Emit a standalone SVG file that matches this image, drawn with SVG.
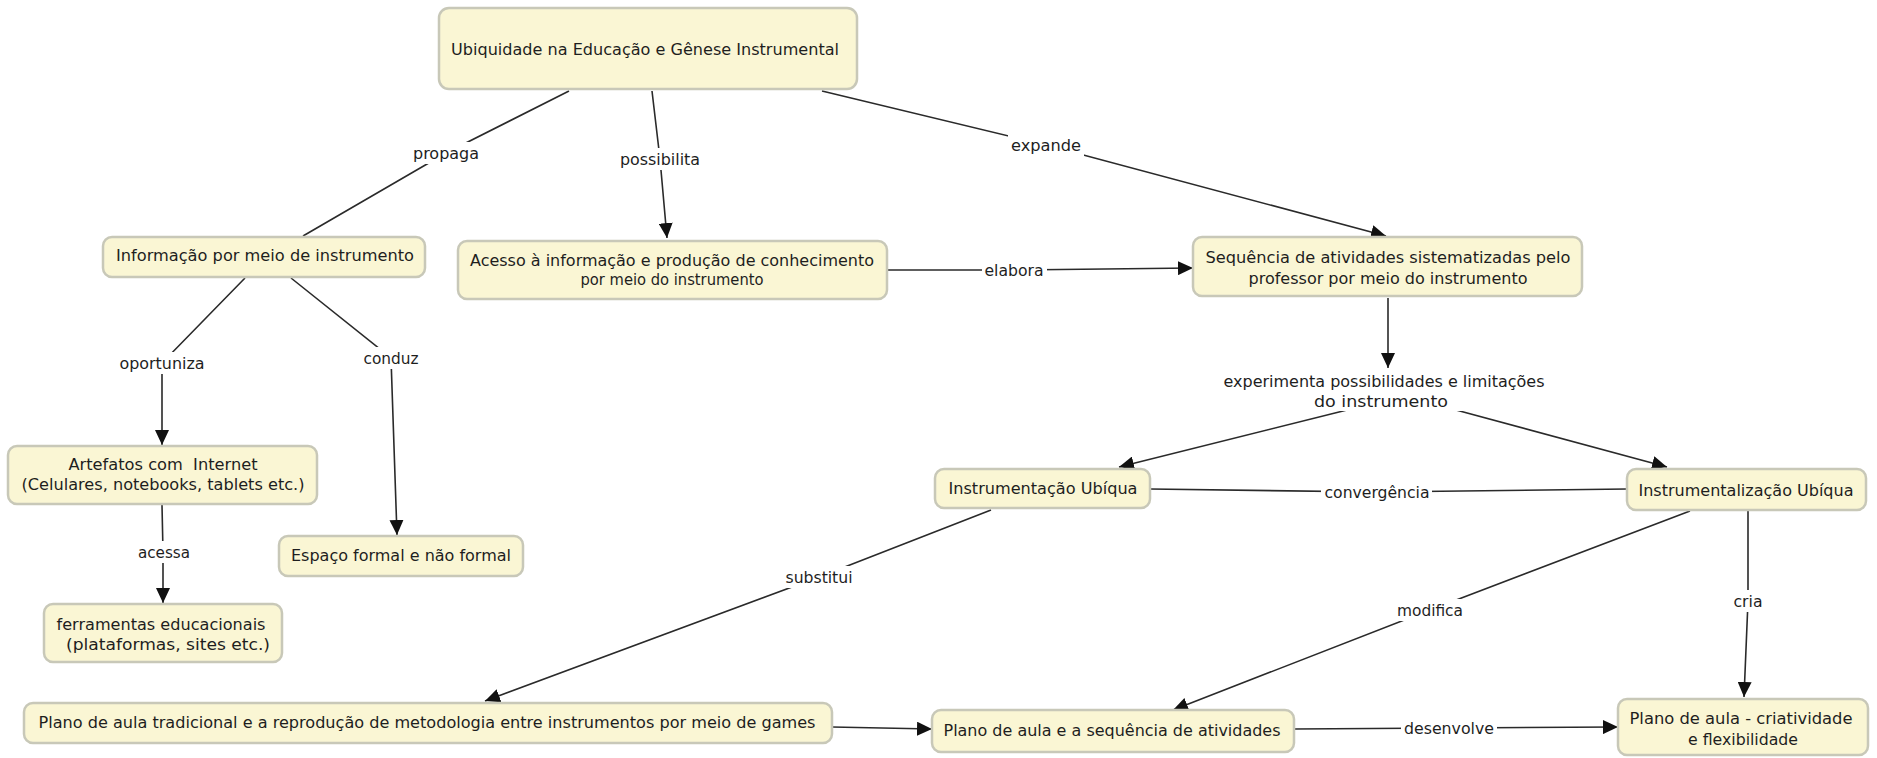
<svg xmlns="http://www.w3.org/2000/svg" width="1877" height="758" viewBox="0 0 1877 758">
  <defs>
    <marker id="arrow" markerUnits="userSpaceOnUse" markerWidth="16" markerHeight="14" refX="15" refY="7" orient="auto">
      <path d="M0,0 L15,7 L0,14 Z" fill="#111"/>
    </marker>
    <style>
      .box { fill: #FAF6D4; stroke: #C8C8B8; stroke-width: 2.5; }
      .txt { font-family: "DejaVu Sans", Verdana, sans-serif; font-size: 16px; fill: #1e1e1e; text-anchor: middle; }
      .lbl { font-family: "DejaVu Sans", Verdana, sans-serif; font-size: 16px; fill: #1e1e1e; text-anchor: middle; }
      .lblbg { fill: #ffffff; }
      .edge { fill: none; stroke: #2a2a2a; stroke-width: 1.6; }
      .arr { marker-end: url(#arrow); }
    </style>
  </defs>

  <rect x="0" y="0" width="1877" height="758" fill="#ffffff"/>

  <!-- connectors: each path runs source -> label -> target -->
  <g id="connectors">
    <path class="edge" d="M569,91 L446,153 L303,236"/>
    <path class="edge arr" d="M652,91 L660,159 L667,238"/>
    <path class="edge arr" d="M822,91 L1046,145 L1386,236"/>
    <path class="edge arr" d="M887,270 L1014,270 L1193,268"/>
    <path class="edge arr" d="M245,278 L162,363 L162,445"/>
    <path class="edge arr" d="M291,278 L391,358 L397,535"/>
    <path class="edge arr" d="M162,505 L163,552 L163,603"/>
    <path class="edge arr" d="M1388,298 L1388,368"/>
    <path class="edge arr" d="M1347,410 L1119,467"/>
    <path class="edge arr" d="M1456,410 L1667,467"/>
    <path class="edge" d="M1150,489 L1377,492 L1627,489"/>
    <path class="edge arr" d="M991,510 L819,577 L485,701"/>
    <path class="edge arr" d="M1690,511 L1430,610 L1173,710"/>
    <path class="edge arr" d="M1748,511 L1748,601 L1744,697"/>
    <path class="edge arr" d="M832,727 L932,729"/>
    <path class="edge arr" d="M1294,729 L1449,728 L1618,727"/>

    <!-- link labels -->
    <g id="labels">
      <rect class="lblbg" x="410" y="142" width="72" height="22"/>
      <text class="lbl" x="446" y="159" textLength="66" lengthAdjust="spacingAndGlyphs">propaga</text>
      <rect class="lblbg" x="617" y="148" width="86" height="22"/>
      <text class="lbl" x="660" y="165" textLength="80" lengthAdjust="spacingAndGlyphs">possibilita</text>
      <rect class="lblbg" x="1008" y="134" width="76" height="22"/>
      <text class="lbl" x="1046" y="151" textLength="70" lengthAdjust="spacingAndGlyphs">expande</text>
      <rect class="lblbg" x="982" y="259" width="65" height="22"/>
      <text class="lbl" x="1014" y="276" textLength="59" lengthAdjust="spacingAndGlyphs">elabora</text>
      <rect class="lblbg" x="117" y="352" width="91" height="22"/>
      <text class="lbl" x="162" y="369" textLength="85" lengthAdjust="spacingAndGlyphs">oportuniza</text>
      <rect class="lblbg" x="361" y="347" width="61" height="22"/>
      <text class="lbl" x="391" y="364" textLength="55" lengthAdjust="spacingAndGlyphs">conduz</text>
      <rect class="lblbg" x="135" y="541" width="58" height="22"/>
      <text class="lbl" x="164" y="558" textLength="52" lengthAdjust="spacingAndGlyphs">acessa</text>
      <rect class="lblbg" x="1220" y="369" width="327" height="42"/>
      <text class="lbl" x="1384" y="387" textLength="321" lengthAdjust="spacingAndGlyphs">experimenta possibilidades e limitações</text>
      <text class="lbl" x="1381" y="407" textLength="134" lengthAdjust="spacingAndGlyphs">do instrumento</text>
      <rect class="lblbg" x="1321" y="481" width="111" height="22"/>
      <text class="lbl" x="1377" y="498" textLength="105" lengthAdjust="spacingAndGlyphs">convergência</text>
      <rect class="lblbg" x="782" y="566" width="73" height="22"/>
      <text class="lbl" x="819" y="583" textLength="67" lengthAdjust="spacingAndGlyphs">substitui</text>
      <rect class="lblbg" x="1394" y="599" width="72" height="22"/>
      <text class="lbl" x="1430" y="616" textLength="66" lengthAdjust="spacingAndGlyphs">modifica</text>
      <rect class="lblbg" x="1730" y="590" width="35" height="22"/>
      <text class="lbl" x="1748" y="607" textLength="29" lengthAdjust="spacingAndGlyphs">cria</text>
      <rect class="lblbg" x="1401" y="717" width="96" height="22"/>
      <text class="lbl" x="1449" y="734" textLength="90" lengthAdjust="spacingAndGlyphs">desenvolve</text>
    </g>
  </g>

  <!-- concept nodes -->
  <g id="node-ubiquidade">
    <rect class="box" x="439" y="8" width="418" height="81" rx="10"/>
    <text class="txt" x="645" y="55" textLength="388" lengthAdjust="spacingAndGlyphs">Ubiquidade na Educação e Gênese Instrumental</text>
  </g>
  <g id="node-informacao">
    <rect class="box" x="103" y="237" width="322" height="40" rx="9"/>
    <text class="txt" x="265" y="261" textLength="298" lengthAdjust="spacingAndGlyphs">Informação por meio de instrumento</text>
  </g>
  <g id="node-acesso">
    <rect class="box" x="458" y="241" width="429" height="58" rx="9"/>
    <text class="txt" x="672" y="266" textLength="404" lengthAdjust="spacingAndGlyphs">Acesso à informação e produção de conhecimento</text>
    <text class="txt" x="672" y="285" textLength="183" lengthAdjust="spacingAndGlyphs">por meio do instrumento</text>
  </g>
  <g id="node-sequencia">
    <rect class="box" x="1193" y="237" width="389" height="59" rx="9"/>
    <text class="txt" x="1388" y="263" textLength="365" lengthAdjust="spacingAndGlyphs">Sequência de atividades sistematizadas pelo</text>
    <text class="txt" x="1388" y="284" textLength="279" lengthAdjust="spacingAndGlyphs">professor por meio do instrumento</text>
  </g>
  <g id="node-artefatos">
    <rect class="box" x="8" y="446" width="309" height="58" rx="9"/>
    <text class="txt" x="163" y="470" textLength="189" lengthAdjust="spacingAndGlyphs" xml:space="preserve">Artefatos com  Internet</text>
    <text class="txt" x="163" y="490" textLength="283" lengthAdjust="spacingAndGlyphs">(Celulares, notebooks, tablets etc.)</text>
  </g>
  <g id="node-espaco">
    <rect class="box" x="279" y="536" width="244" height="40" rx="9"/>
    <text class="txt" x="401" y="561" textLength="220" lengthAdjust="spacingAndGlyphs">Espaço formal e não formal</text>
  </g>
  <g id="node-ferramentas">
    <rect class="box" x="44" y="604" width="238" height="58" rx="9"/>
    <text class="txt" x="161" y="630" textLength="209" lengthAdjust="spacingAndGlyphs">ferramentas educacionais</text>
    <text class="txt" x="168" y="650" textLength="204" lengthAdjust="spacingAndGlyphs">(plataformas, sites etc.)</text>
  </g>
  <g id="node-instrumentacao">
    <rect class="box" x="935" y="469" width="215" height="39" rx="9"/>
    <text class="txt" x="1043" y="494" textLength="189" lengthAdjust="spacingAndGlyphs">Instrumentação Ubíqua</text>
  </g>
  <g id="node-instrumentalizacao">
    <rect class="box" x="1627" y="469" width="239" height="41" rx="9"/>
    <text class="txt" x="1746" y="496" textLength="215" lengthAdjust="spacingAndGlyphs">Instrumentalização Ubíqua</text>
  </g>
  <g id="node-plano-tradicional">
    <rect class="box" x="24" y="703" width="808" height="40" rx="9"/>
    <text class="txt" x="427" y="728" textLength="777" lengthAdjust="spacingAndGlyphs">Plano de aula tradicional e a reprodução de metodologia entre instrumentos por meio de games</text>
  </g>
  <g id="node-plano-sequencia">
    <rect class="box" x="932" y="710" width="362" height="42" rx="9"/>
    <text class="txt" x="1112" y="736" textLength="337" lengthAdjust="spacingAndGlyphs">Plano de aula e a sequência de atividades</text>
  </g>
  <g id="node-plano-criatividade">
    <rect class="box" x="1618" y="699" width="250" height="56" rx="9"/>
    <text class="txt" x="1741" y="724" textLength="223" lengthAdjust="spacingAndGlyphs">Plano de aula - criatividade</text>
    <text class="txt" x="1743" y="745" textLength="110" lengthAdjust="spacingAndGlyphs">e flexibilidade</text>
  </g>
</svg>
